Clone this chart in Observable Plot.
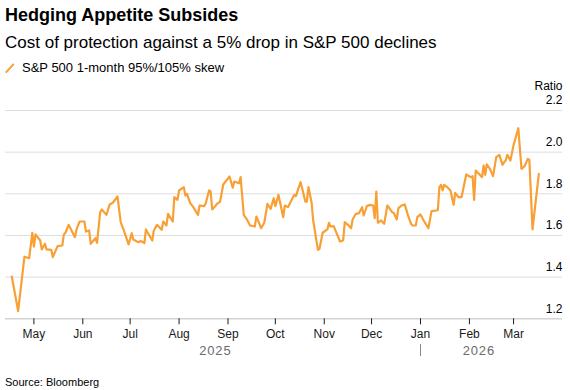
<!DOCTYPE html>
<html>
<head>
<meta charset="utf-8">
<script src="https://cdn.jsdelivr.net/npm/d3@7"></script>
<script src="https://cdn.jsdelivr.net/npm/@observablehq/plot@0.6"></script>
<style>
  body { margin: 0; background: #fff; font-family: "Liberation Sans", Arial, sans-serif; color: #000; }
  #wrap { position: relative; width: 570px; height: 390px; overflow: hidden; }
  .t { position: absolute; left: 5px; white-space: nowrap; }
  #title { top: 4px; font-size: 18px; font-weight: bold; line-height: 22px; }
  #subtitle { top: 33px; font-size: 17px; line-height: 20px; }
  #legend { top: 60px; font-size: 13px; line-height: 16px; left: 5px; }
  #legend svg { position: absolute; left: 0; top: 2px; }
  #legend span { position: absolute; left: 17px; top: 0; }
  #chart { position: absolute; left: 0; top: 76px; }
  #source { top: 375px; font-size: 11px; line-height: 14px; }
  g[fill="#6b6b6b"] text { letter-spacing: 0.8px; }
</style>
</head>
<body>
<div id="wrap">
  <div class="t" id="title">Hedging Appetite Subsides</div>
  <div class="t" id="subtitle">Cost of protection against a 5% drop in S&amp;P 500 declines</div>
  <div class="t" id="legend"><svg width="12" height="13"><line x1="0.8" y1="10.7" x2="8.8" y2="1.8" stroke="#f8a035" stroke-width="2"/></svg><span>S&amp;P 500 1-month 95%/105% skew</span></div>
  <div id="chart"></div>
  <div class="t" id="source">Source: Bloomberg</div>
</div>
<script>
const dates = [
"2025-04-17","2025-04-21","2025-04-25","2025-04-28","2025-04-30","2025-05-01","2025-05-02","2025-05-05","2025-05-06","2025-05-08",
"2025-05-09","2025-05-12","2025-05-13","2025-05-16","2025-05-19","2025-05-20","2025-05-21","2025-05-23","2025-05-27","2025-05-28",
"2025-05-30","2025-06-02","2025-06-03","2025-06-05","2025-06-06","2025-06-09","2025-06-10","2025-06-12","2025-06-13","2025-06-16",
"2025-06-18","2025-06-20","2025-06-23","2025-06-25","2025-06-27","2025-06-30","2025-07-02","2025-07-03","2025-07-06","2025-07-08",
"2025-07-10","2025-07-11","2025-07-15","2025-07-16","2025-07-18","2025-07-21","2025-07-22","2025-07-24","2025-07-25","2025-07-28",
"2025-07-29","2025-07-31","2025-08-01","2025-08-04","2025-08-05","2025-08-06","2025-08-08","2025-08-10","2025-08-13","2025-08-14",
"2025-08-17","2025-08-18","2025-08-20","2025-08-21","2025-08-22","2025-08-24","2025-08-25","2025-08-27","2025-08-29","2025-09-02",
"2025-09-04","2025-09-05","2025-09-08","2025-09-09","2025-09-11","2025-09-13","2025-09-15","2025-09-18","2025-09-19","2025-09-22",
"2025-09-24","2025-09-26","2025-09-28","2025-09-30","2025-10-01","2025-10-03","2025-10-04","2025-10-06","2025-10-07","2025-10-09",
"2025-10-13","2025-10-14","2025-10-17","2025-10-18","2025-10-20","2025-10-21","2025-10-22","2025-10-24","2025-10-25","2025-10-28",
"2025-10-29","2025-10-31","2025-11-03","2025-11-04","2025-11-05","2025-11-07","2025-11-09","2025-11-11","2025-11-13","2025-11-14",
"2025-11-16","2025-11-18","2025-11-19","2025-11-21","2025-11-23","2025-11-25","2025-11-26","2025-11-28","2025-11-30","2025-12-02",
"2025-12-03","2025-12-04","2025-12-05","2025-12-07","2025-12-09","2025-12-11","2025-12-14","2025-12-15","2025-12-17","2025-12-18",
"2025-12-20","2025-12-22","2025-12-24","2025-12-26","2025-12-27","2025-12-29","2025-12-30","2026-01-01","2026-01-03","2026-01-06",
"2026-01-08","2026-01-11","2026-01-12","2026-01-13","2026-01-14","2026-01-15","2026-01-16","2026-01-18","2026-01-20","2026-01-22",
"2026-01-23","2026-01-25","2026-01-27","2026-01-30","2026-01-31","2026-02-02","2026-02-03","2026-02-04","2026-02-05","2026-02-07",
"2026-02-09","2026-02-10","2026-02-11","2026-02-12","2026-02-14","2026-02-16","2026-02-18","2026-02-20","2026-02-22","2026-02-23",
"2026-02-24","2026-02-25","2026-02-27","2026-03-01","2026-03-04","2026-03-06","2026-03-08","2026-03-10","2026-03-11","2026-03-13",
"2026-03-17"
];
const skew = [
1.403,1.237,1.498,1.491,1.613,1.547,1.605,1.576,1.533,1.560,
1.533,1.531,1.496,1.549,1.552,1.605,1.613,1.651,1.592,1.629,
1.667,1.667,1.619,1.624,1.560,1.587,1.565,1.712,1.725,1.699,
1.749,1.757,1.787,1.664,1.624,1.557,1.611,1.581,1.568,1.573,
1.563,1.629,1.576,1.624,1.651,1.627,1.667,1.648,1.704,1.667,
1.784,1.771,1.816,1.832,1.792,1.800,1.757,1.736,1.699,1.744,
1.741,1.757,1.816,1.811,1.725,1.741,1.752,1.763,1.845,1.883,
1.829,1.859,1.851,1.880,1.699,1.677,1.648,1.643,1.691,1.635,
1.661,1.752,1.728,1.779,1.741,1.795,1.760,1.688,1.744,1.736,
1.795,1.789,1.856,1.827,1.763,1.763,1.832,1.757,1.672,1.531,
1.536,1.613,1.629,1.661,1.643,1.645,1.608,1.571,1.576,1.664,
1.651,1.635,1.677,1.704,1.707,1.736,1.696,1.741,1.747,1.744,
1.683,1.811,1.661,1.672,1.656,1.744,1.712,1.709,1.677,1.731,
1.744,1.749,1.699,1.656,1.648,1.648,1.688,1.701,1.672,1.635,
1.717,1.720,1.723,1.832,1.843,1.816,1.843,1.832,1.816,1.747,
1.805,1.784,1.784,1.893,1.888,1.880,1.885,1.771,1.912,1.896,
1.880,1.936,1.891,1.941,1.920,1.885,1.976,1.987,1.939,1.952,
1.960,1.987,1.960,2.035,2.115,1.920,1.933,1.968,1.963,1.629,
1.896
];
const yTicks = [1.2, 1.4, 1.6, 1.8, 2.0, 2.2];
const monthTicks = ["2025-05-01","2025-06-01","2025-07-01","2025-08-01","2025-09-01","2025-10-01","2025-11-01","2025-12-01","2026-01-01","2026-02-01","2026-03-01"];
const monthLabels = ["May","Jun","Jul","Aug","Sep","Oct","Nov","Dec","Jan","Feb","Mar"];
const yearLabels = ["2025", "2026"];
const yearLabelDates = ["2025-08-24", "2026-02-07"];
const yearBreaks = ["2026-01-01"];
const xDomain = ["2025-04-13", "2026-04-01"];

const parse = s => new Date(s + "T00:00:00Z");
const data = dates.map((d, i) => ({date: parse(d), value: skew[i]}));
const monthDates = monthTicks.map(parse);
const ORANGE = "#f8a035";

const chart = Plot.plot({
  width: 570,
  height: 290,
  marginTop: 34,
  marginBottom: 47.7,
  marginLeft: 5,
  marginRight: 8,
  style: {fontFamily: '"Liberation Sans", Arial, sans-serif', fontSize: "12px", color: "#000", background: "transparent"},
  x: {type: "utc", domain: xDomain.map(parse)},
  y: {domain: [1.2, 2.2], axis: null},
  marks: [
    Plot.ruleY(yTicks.filter(d => d > 1.2), {stroke: "#dedede", strokeWidth: 1}),
    Plot.ruleY([1.2], {stroke: "#d4d4d4", strokeWidth: 1.6}),
    Plot.axisX(monthDates, {
      tickSize: 6, tickPadding: 5, fontSize: 12, color: "#1a1a1a",
      tickFormat: d => monthLabels[monthDates.findIndex(m => +m === +d)]
    }),
    Plot.ruleX(yearBreaks.map(parse), {stroke: "#888", strokeWidth: 1, insetTop: 234, insetBottom: -37.7}),
    Plot.text(yearLabels, {
      x: (d, i) => parse(yearLabelDates[i]), text: d => d,
      frameAnchor: "bottom", lineAnchor: "middle", dy: 31.7, fill: "#6b6b6b", fontSize: 13
    }),
    Plot.text(yTicks, {
      y: d => d, text: d => d.toFixed(1), frameAnchor: "right", textAnchor: "end",
      lineAnchor: "middle", dy: -10, fontSize: 12, fill: "#000"
    }),
    Plot.text(["Ratio"], {frameAnchor: "top-right", textAnchor: "end", lineAnchor: "middle", dy: -24.3, fontSize: 12, fill: "#000"}),
    Plot.lineY(data, {x: "date", y: "value", stroke: ORANGE, strokeWidth: 2.2, strokeLinejoin: "round"})
  ]
});
document.getElementById("chart").appendChild(chart);
</script>
</body>
</html>
